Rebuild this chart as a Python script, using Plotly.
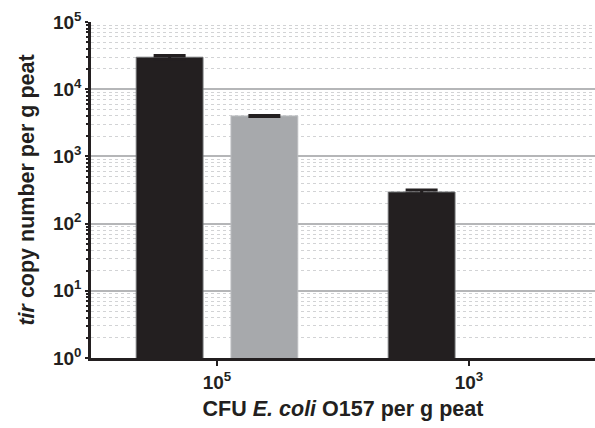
import plotly.graph_objects as go

# CFU inoculum levels (x categories)
inoculum = ["10<sup>5</sup>", "10<sup>3</sup>"]
x_pos = [0, 1]

# tir copy numbers per g peat
series_black = [29900, 295]
series_black_err = [1700, 20]
series_grey = [4000, None]
series_grey_err = [100, 0]

y_tick_vals = [1, 10, 100, 1000, 10000, 100000]
y_tick_text = ["10<sup>0</sup>", "10<sup>1</sup>", "10<sup>2</sup>",
               "10<sup>3</sup>", "10<sup>4</sup>", "10<sup>5</sup>"]

FONT = "Liberation Sans, Arial, sans-serif"

fig = go.Figure()
fig.add_trace(go.Bar(
    x=x_pos, y=series_black,
    marker=dict(color="#231f20", line=dict(color="#6d6e70", width=1)),
    error_y=dict(type="data", array=series_black_err, visible=True,
                 color="#231f20", thickness=3, width=16),
    showlegend=False,
))
fig.add_trace(go.Bar(
    x=x_pos, y=series_grey,
    marker=dict(color="#a7a9ac", line=dict(color="#bcbec0", width=1)),
    error_y=dict(type="data", array=series_grey_err, visible=True,
                 color="#231f20", thickness=2.5, width=16),
    showlegend=False,
))

fig.update_layout(
    width=595, height=428,
    margin=dict(l=91, r=0, t=22, b=69.5),
    paper_bgcolor="white", plot_bgcolor="white",
    barmode="group", bargap=0.248, bargroupgap=0.295,
    font=dict(family=FONT, color="#231f20"),
)

fig.update_xaxes(
    range=[-0.5, 1.5],
    tickvals=x_pos, ticktext=inoculum,
    tickfont=dict(family=FONT, size=19, weight="bold", color="#231f20"),
    ticks="outside", ticklen=5, tickwidth=2, tickcolor="#231f20",
    showline=True, linecolor="#231f20", linewidth=2.5,
    showgrid=False, zeroline=False,
    title=dict(text="<b>CFU <i>E. coli</i> O157 per g peat</b>",
               font=dict(family=FONT, size=21.5, color="#231f20"),
               standoff=10),
)

fig.update_yaxes(
    type="log", range=[0, 5],
    tickvals=y_tick_vals, ticktext=y_tick_text,
    tickfont=dict(family=FONT, size=19, weight="bold", color="#231f20"),
    ticks="outside", ticklen=3, tickwidth=1.5, tickcolor="#231f20",
    showline=True, linecolor="#231f20", linewidth=2.5,
    showgrid=True, gridcolor="#b5b6b8", gridwidth=2,
    zeroline=False,
    minor=dict(dtick="D1", showgrid=True, gridcolor="#d2d3d5",
               gridwidth=1, griddash="dot", ticks="outside", ticklen=2,
               tickcolor="#231f20"),
    title=dict(text="<b><i>tir</i> copy number per g peat</b>",
               font=dict(family=FONT, size=21.5, color="#231f20"),
               standoff=13),
)

fig.write_html("out.html")
